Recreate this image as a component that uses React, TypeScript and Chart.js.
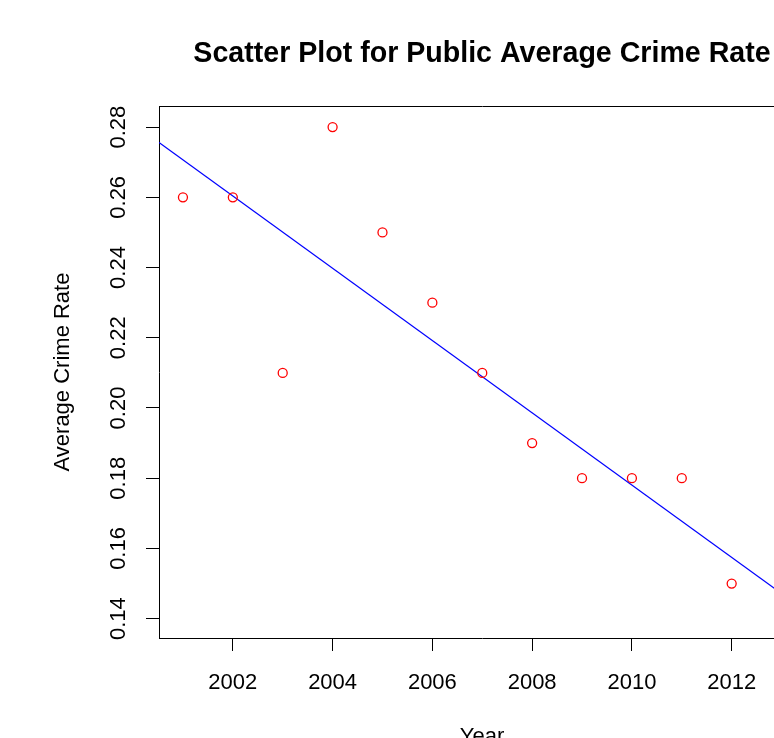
import React, { useEffect, useRef } from "react";
import { Chart, registerables } from "chart.js";

Chart.register(...registerables);

// Observed average crime rate per year
const years = [2001, 2002, 2003, 2004, 2005, 2006, 2007, 2008, 2009, 2010, 2011, 2012];
const crimeRates = [0.26, 0.26, 0.21, 0.28, 0.25, 0.23, 0.21, 0.19, 0.18, 0.18, 0.18, 0.15];

// Fitted trend line, given by its values at both ends of the x range
const trendYears = [2000.52, 2013.47];
const trendRates = [0.2756, 0.1423];

// Axis ticks and labels
const xTickValues = [2002, 2004, 2006, 2008, 2010, 2012];
const xTickLabels = ["2002", "2004", "2006", "2008", "2010", "2012"];
const yTickValues = [0.14, 0.16, 0.18, 0.2, 0.22, 0.24, 0.26, 0.28];
const yTickLabels = ["0.14", "0.16", "0.18", "0.20", "0.22", "0.24", "0.26", "0.28"];

const titleText = "Scatter Plot for Public Average Crime Rate";
const xAxisTitle = "Year";
const yAxisTitle = "Average Crime Rate";

const FONT = '"Liberation Sans", Arial, Helvetica, sans-serif';

// Draws the plot frame, tick labels and titles in the classic base-graphics style
const frameAndLabels = {
  id: "frameAndLabels",
  afterDraw(chart: any) {
    const { ctx, chartArea } = chart;
    const xs = chart.scales.x;
    const ys = chart.scales.y;
    const { left, right, top, bottom } = chartArea;
    ctx.save();

    // box around the plotting region
    ctx.strokeStyle = "#000";
    ctx.lineWidth = 1;
    ctx.beginPath();
    ctx.moveTo(Math.round(left) + 0.5, Math.round(top) + 0.5);
    ctx.lineTo(Math.round(right) + 0.5, Math.round(top) + 0.5);
    ctx.lineTo(Math.round(right) + 0.5, Math.round(bottom) + 0.5);
    ctx.stroke();

    ctx.fillStyle = "#000";
    const cx = (left + right) / 2;

    // title
    ctx.font = `bold 28.6px ${FONT}`;
    ctx.textAlign = "center";
    ctx.textBaseline = "alphabetic";
    ctx.fillText(titleText, cx, 62);

    // x tick labels
    ctx.font = `22px ${FONT}`;
    xTickValues.forEach((v, i) => {
      ctx.fillText(xTickLabels[i], xs.getPixelForValue(v), bottom + 51);
    });

    // x axis title
    ctx.fillText(xAxisTitle, cx, bottom + 105);

    // y tick labels, written upward
    yTickValues.forEach((v, i) => {
      ctx.save();
      ctx.translate(left - 34, ys.getPixelForValue(v));
      ctx.rotate(-Math.PI / 2);
      ctx.fillText(yTickLabels[i], 0, 0);
      ctx.restore();
    });

    // y axis title
    ctx.save();
    ctx.translate(left - 90.5, (top + bottom) / 2);
    ctx.rotate(-Math.PI / 2);
    ctx.fillText(yAxisTitle, 0, 0);
    ctx.restore();

    ctx.restore();
  },
};

export default function App() {
  const canvasRef = useRef<HTMLCanvasElement | null>(null);

  useEffect(() => {
    const canvas = canvasRef.current;
    if (!canvas) return;

    const axisCommon = {
      type: "linear" as const,
      ticks: { display: false },
      grid: {
        display: true,
        drawOnChartArea: false,
        drawTicks: true,
        tickLength: 13,
        color: "#000",
        lineWidth: 1,
      },
      border: { display: true, color: "#000", width: 1 },
    };

    const chart = new Chart(canvas, {
      type: "scatter",
      data: {
        datasets: [
          {
            type: "scatter",
            data: years.map((yr, i) => ({ x: yr, y: crimeRates[i] })),
            borderColor: "#ff0000",
            backgroundColor: "rgba(0,0,0,0)",
            pointRadius: 4.5,
            pointHoverRadius: 4.5,
            borderWidth: 1.3,
          },
          {
            type: "line",
            data: trendYears.map((yr, i) => ({ x: yr, y: trendRates[i] })),
            borderColor: "#0000ff",
            backgroundColor: "#0000ff",
            borderWidth: 1.2,
            pointRadius: 0,
            fill: false,
            tension: 0,
          },
        ],
      } as any,
      options: {
        responsive: false,
        animation: false,
        devicePixelRatio: 1,
        events: [],
        layout: { padding: { left: 146, top: 106, right: 35, bottom: 109 } },
        plugins: {
          legend: { display: false },
          title: { display: false },
          tooltip: { enabled: false },
        },
        scales: {
          x: {
            ...axisCommon,
            min: 2000.52,
            max: 2013.47,
            afterBuildTicks: (axis: any) => {
              axis.ticks = xTickValues.map((v) => ({ value: v }));
            },
          },
          y: {
            ...axisCommon,
            min: 0.1345,
            max: 0.286,
            afterBuildTicks: (axis: any) => {
              axis.ticks = yTickValues.map((v) => ({ value: v }));
            },
          },
        },
      } as any,
      plugins: [frameAndLabels],
    });

    return () => chart.destroy();
  }, []);

  return (
    <div
      style={{
        position: "fixed",
        left: 0,
        top: 0,
        width: 774,
        height: 738,
        overflow: "hidden",
        background: "#fff",
      }}
    >
      <canvas ref={canvasRef} width={840} height={760} style={{ display: "block" }} />
    </div>
  );
}
